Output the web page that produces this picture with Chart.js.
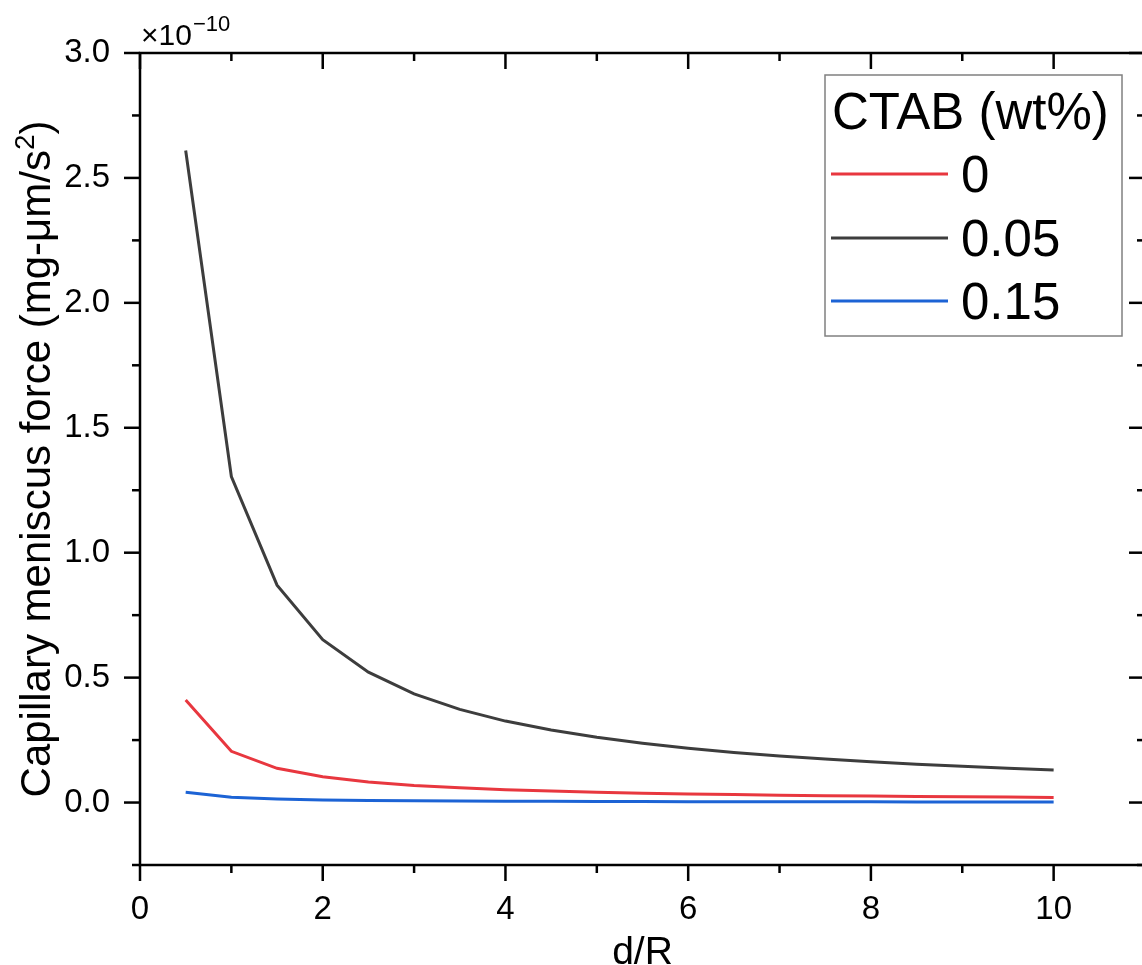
<!DOCTYPE html>
<html>
<head>
<meta charset="utf-8">
<title>Capillary meniscus force vs d/R</title>
<script src="https://cdn.jsdelivr.net/npm/chart.js@4.4.1/dist/chart.umd.min.js"></script>
<style>
  html, body { margin: 0; padding: 0; background: #fff; overflow: hidden; }
  #wrap { position: absolute; left: 0; top: 0; width: 1150px; height: 965px; }
</style>
</head>
<body>
<div id="wrap"><canvas id="forceChart" width="1150" height="965"></canvas></div>
<script>
// d/R values and force (x1e-10 mg-um/s^2)
const dOverR = [0.5, 1, 1.5, 2, 2.5, 3, 3.5, 4, 4.5, 5, 5.5, 6, 6.5, 7, 7.5, 8, 8.5, 9, 9.5, 10];
const ctab0 = [0.41, 0.205, 0.137, 0.103, 0.082, 0.068, 0.059, 0.051, 0.046, 0.041,
               0.037, 0.034, 0.032, 0.029, 0.027, 0.026, 0.024, 0.023, 0.022, 0.02];
const ctab005 = [2.61, 1.305, 0.87, 0.652, 0.522, 0.435, 0.373, 0.326, 0.29, 0.261,
                 0.237, 0.217, 0.2, 0.186, 0.174, 0.163, 0.153, 0.145, 0.137, 0.13];
const ctab015 = [0.041, 0.021, 0.014, 0.01, 0.008, 0.007, 0.006, 0.005, 0.005, 0.004,
                 0.004, 0.003, 0.003, 0.003, 0.003, 0.003, 0.002, 0.002, 0.002, 0.002];
const seriesLabels = ["0", "0.05", "0.15"];
const seriesColors = ["#e8373f", "#3d3d3d", "#1c63d5"];
const xMajor = [0, 2, 4, 6, 8, 10];
const xMinor = [1, 3, 5, 7, 9, 11];
const yMajor = [0, 0.5, 1.0, 1.5, 2.0, 2.5, 3.0];
const yMinor = [-0.25, 0.25, 0.75, 1.25, 1.75, 2.25, 2.75];

const FONT = "'Liberation Sans', Arial, sans-serif";

function toPoints(ys) {
  return dOverR.map((x, i) => ({ x: x, y: ys[i] }));
}

// frame, inward/outward ticks, axis titles, multiplier and legend
const decorations = {
  id: "decorations",
  afterDraw(chart) {
    const c = chart.ctx;
    const a = chart.chartArea;
    const xs = chart.scales.x;
    const ys = chart.scales.y;
    c.save();
    c.strokeStyle = "#000";
    c.lineWidth = 2.5;
    c.lineCap = "butt";
    c.strokeRect(a.left, a.top, a.right - a.left, a.bottom - a.top);

    const tick = (x1, y1, x2, y2) => {
      c.beginPath();
      c.moveTo(x1, y1);
      c.lineTo(x2, y2);
      c.stroke();
    };
    xMajor.forEach(v => {
      const px = xs.getPixelForValue(v);
      tick(px, a.bottom, px, a.bottom + 16);
      tick(px, a.top, px, a.top + 16);
    });
    xMinor.forEach(v => {
      const px = xs.getPixelForValue(v);
      tick(px, a.bottom, px, a.bottom + 8);
      tick(px, a.top, px, a.top + 8);
    });
    yMajor.forEach(v => {
      const py = ys.getPixelForValue(v);
      tick(a.left, py, a.left - 16, py);
      tick(a.right, py, a.right - 16, py);
    });
    yMinor.forEach(v => {
      const py = ys.getPixelForValue(v);
      tick(a.left, py, a.left - 8, py);
      tick(a.right, py, a.right - 8, py);
    });

    c.fillStyle = "#000";
    // x title
    c.font = "39px " + FONT;
    c.textAlign = "center";
    c.textBaseline = "alphabetic";
    c.fillText("d/R", (a.left + a.right) / 2, 964);

    // y title (rotated, with superscript), centred on the axis
    c.save();
    c.translate(50, (a.top + a.bottom) / 2);
    c.rotate(-Math.PI / 2);
    c.font = "42px " + FONT;
    const main = "Capillary meniscus force (mg-\u03bcm/s";
    const wMain = c.measureText(main).width;
    c.font = "28px " + FONT;
    const wSup = c.measureText("2").width;
    c.font = "42px " + FONT;
    const wEnd = c.measureText(")").width;
    let sx = -(wMain + wSup + wEnd) / 2;
    c.textAlign = "left";
    c.fillText(main, sx, 0);
    sx += wMain;
    c.font = "28px " + FONT;
    c.fillText("2", sx, -16);
    sx += wSup;
    c.font = "42px " + FONT;
    c.fillText(")", sx, 0);
    c.restore();

    // multiplier
    c.textAlign = "left";
    c.font = "30px " + FONT;
    c.fillText("\u00d710", 141, 45);
    const wm = c.measureText("\u00d710").width;
    c.font = "22px " + FONT;
    c.fillText("\u221210", 141 + wm + 1, 31);

    // legend box
    c.strokeStyle = "#808080";
    c.lineWidth = 1.5;
    c.strokeRect(825, 75, 297, 261);
    c.font = "51px " + FONT;
    c.fillStyle = "#000";
    c.fillText("CTAB (wt%)", 832, 129);
    const rows = [174, 238, 301];
    chart.data.datasets.forEach((ds, i) => {
      c.strokeStyle = ds.borderColor;
      c.lineWidth = 3;
      tick(831, rows[i], 948, rows[i]);
      c.fillStyle = "#000";
      c.fillText(ds.label, 961, rows[i] + 18);
    });
    c.restore();
  }
};

const ctx = document.getElementById("forceChart");
new Chart(ctx, {
  type: "line",
  data: {
    datasets: [ctab0, ctab005, ctab015].map((ys, i) => ({
      label: seriesLabels[i],
      data: toPoints(ys),
      borderColor: seriesColors[i],
      backgroundColor: seriesColors[i],
      borderWidth: 3,
      pointRadius: 0,
      tension: 0,
      fill: false
    }))
  },
  options: {
    responsive: false,
    animation: false,
    layout: { padding: { top: 53, right: 5, left: 0, bottom: 0 } },
    plugins: {
      legend: { display: false },
      tooltip: { enabled: false }
    },
    scales: {
      x: {
        type: "linear",
        min: 0,
        max: 11,
        afterFit(scale) { scale.height = 100; },
        afterBuildTicks(scale) { scale.ticks = xMajor.map(v => ({ value: v })); },
        grid: { display: false, drawTicks: false },
        border: { display: false },
        ticks: {
          padding: 25,
          maxRotation: 0,
          color: "#000",
          font: { family: FONT, size: 33 },
          callback: v => String(v)
        }
      },
      y: {
        type: "linear",
        min: -0.25,
        max: 3.0,
        afterFit(scale) { scale.width = 140; },
        afterBuildTicks(scale) { scale.ticks = yMajor.map(v => ({ value: v })); },
        grid: { display: false, drawTicks: false },
        border: { display: false },
        ticks: {
          padding: 30,
          color: "#000",
          font: { family: FONT, size: 33 },
          callback: v => Number(v).toFixed(1)
        }
      }
    }
  },
  plugins: [decorations]
});
</script>
</body>
</html>
